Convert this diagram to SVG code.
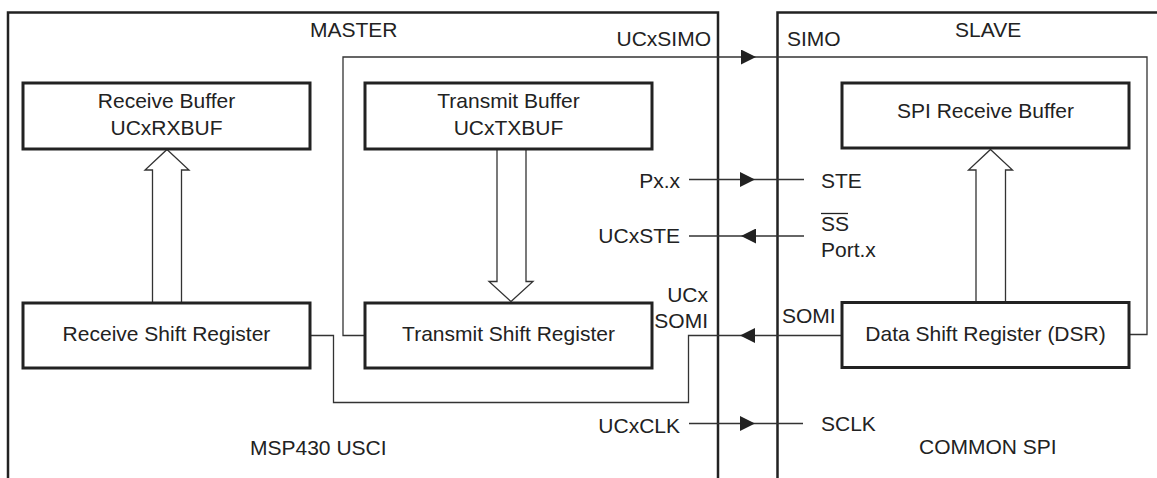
<svg xmlns="http://www.w3.org/2000/svg" width="1157" height="478" viewBox="0 0 1157 478">
<defs>
<style>
text{font-family:"Liberation Sans",Arial,Helvetica,sans-serif;font-size:21px;fill:#222}
.mid{text-anchor:middle}
.end{text-anchor:end}
.box{fill:#fff;stroke:#222;stroke-width:3}
.border{fill:none;stroke:#222;stroke-width:2.5}
.wire{fill:none;stroke:#333;stroke-width:1.3}
.hollow{fill:#fff;stroke:#333;stroke-width:1.3;stroke-linejoin:miter}
</style>
<marker id="ah" viewBox="0 0 15 15" refX="15" refY="7.5" markerWidth="15" markerHeight="15" markerUnits="userSpaceOnUse" orient="auto">
<path d="M0,0 L15,7.5 L0,15 z" fill="#222"/>
</marker>
</defs>
<rect width="1157" height="478" fill="#fff"/>

<g id="master">
<path class="border" d="M8,478 V12.5 H718 V478"/>
<text x="310" y="37">MASTER</text>
<text x="250" y="455">MSP430 USCI</text>
</g>

<g id="slave">
<path class="border" d="M777.5,478 V12.5 H1157"/>
<text x="955" y="37">SLAVE</text>
<text x="919" y="454">COMMON SPI</text>
</g>

<g id="connectors">
<path class="wire" d="M365,335.5 H343 V57 H756" marker-end="url(#ah)"/>
<path class="wire" d="M756,57 H1147 V334.5 H1129"/>
<path class="wire" d="M842,335.5 H740" marker-end="url(#ah)"/>
<path class="wire" d="M740,335.5 H688.5 V402.5 H333.5 V335.5 H310"/>
<path class="wire" d="M689,179.5 H755" marker-end="url(#ah)"/>
<path class="wire" d="M755,179.5 H804"/>
<path class="wire" d="M804,236 H741" marker-end="url(#ah)"/>
<path class="wire" d="M741,236 H689"/>
<path class="wire" d="M689,423.5 H755" marker-end="url(#ah)"/>
<path class="wire" d="M755,423.5 H803"/>
<polygon class="hollow" points="167,149.5 189,170 181.5,170 181.5,303 152.5,303 152.5,170 145,170"/>
<polygon class="hollow" points="511,301.5 533,281.5 526,281.5 526,149 497,149 497,281.5 489,281.5"/>
<polygon class="hollow" points="990.5,149.5 1012.5,170 1005.5,170 1005.5,302 976,302 976,170 968.5,170"/>
</g>

<g id="pin-labels">
<text class="end" x="711" y="45.5">UCxSIMO</text>
<text x="787" y="46">SIMO</text>
<text class="end" x="680" y="188">Px.x</text>
<text x="821" y="188">STE</text>
<text class="end" x="680" y="243">UCxSTE</text>
<text x="821" y="231">SS</text>
<line x1="821" y1="213.5" x2="848" y2="213.5" stroke="#222" stroke-width="1.3"/>
<text x="821" y="257">Port.x</text>
<text class="end" x="708" y="302">UCx</text>
<text class="end" x="708" y="328">SOMI</text>
<text x="782" y="323">SOMI</text>
<text class="end" x="680" y="433">UCxCLK</text>
<text x="821" y="431">SCLK</text>
</g>

<g id="rxbuf">
<rect class="box" x="23" y="83" width="287" height="66"/>
<text class="mid" x="166.5" y="108">Receive Buffer</text>
<text class="mid" x="166.5" y="135">UCxRXBUF</text>
</g>

<g id="txbuf">
<rect class="box" x="365" y="83" width="287" height="66"/>
<text class="mid" x="508.5" y="108">Transmit Buffer</text>
<text class="mid" x="508.5" y="135">UCxTXBUF</text>
</g>

<g id="spirxbuf">
<rect class="box" x="842" y="83" width="287" height="65"/>
<text class="mid" x="985.5" y="118">SPI Receive Buffer</text>
</g>

<g id="rsr">
<rect class="box" x="23" y="303" width="287" height="65"/>
<text class="mid" x="166.5" y="341">Receive Shift Register</text>
</g>

<g id="tsr">
<rect class="box" x="365" y="303" width="287" height="65"/>
<text class="mid" x="508.5" y="341">Transmit Shift Register</text>
</g>

<g id="dsr">
<rect class="box" x="842" y="302.5" width="287" height="65"/>
<text class="mid" x="985.5" y="341">Data Shift Register (DSR)</text>
</g>
</svg>
